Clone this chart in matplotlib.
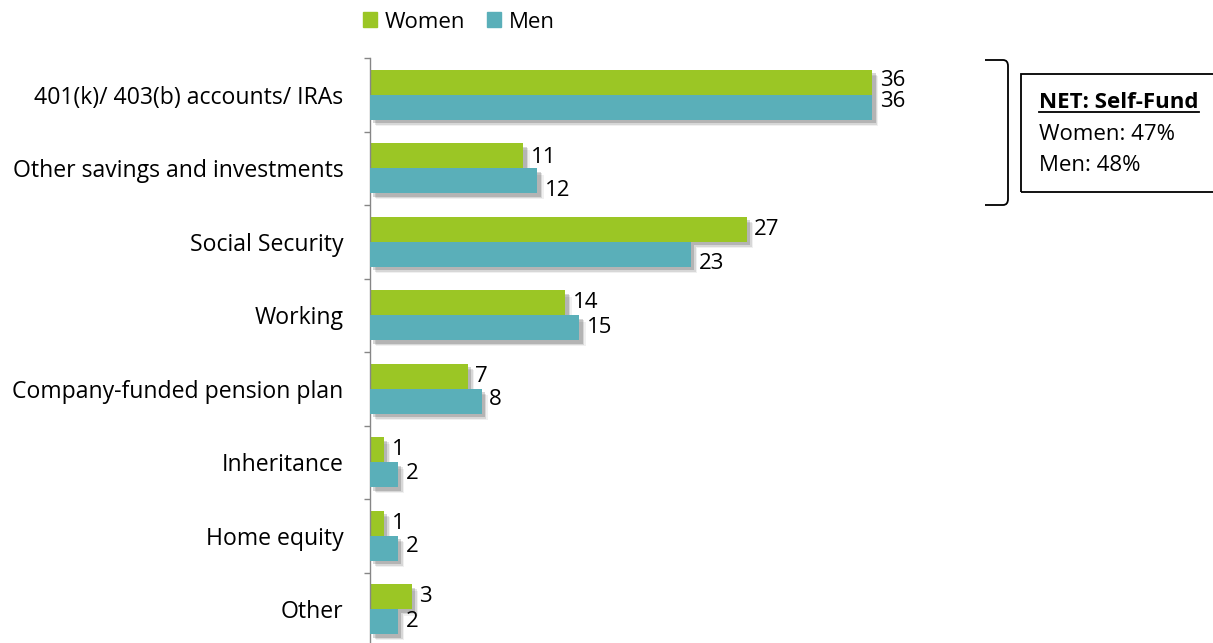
import numpy as np
import matplotlib.pyplot as plt
import matplotlib.patheffects as pe
from matplotlib.patches import Rectangle, PathPatch, Patch
from matplotlib.path import Path

plt.rcParams['font.family'] = ['Open Sans', 'DejaVu Sans']

categories = ['401(k)/ 403(b) accounts/ IRAs', 'Other savings and investments',
              'Social Security', 'Working', 'Company-funded pension plan',
              'Inheritance', 'Home equity', 'Other']
women = [36, 11, 27, 14, 7, 1, 1, 3]
men = [36, 12, 23, 15, 8, 2, 2, 2]
series_names = ['Women', 'Men']
net_title = 'NET: Self-Fund'
net_lines = ['Women: 47%', 'Men: 48%']

c_women = '#9bc625'
c_men = '#5aafb9'
fs = 16

# vertical nudge (points) for value labels, so they clear the shadows
nudge_w = [1, -1.5, 0, 0, 0, 0, 0, 0]
nudge_m = [4, -7, -6.5, 0, 1.5, 1, 1, 0]

W, H = 1213, 643
fig = plt.figure(figsize=(W / 100, H / 100), dpi=100)
# axes placed in pixel terms: zero line at x=370, top at y=58
ax = fig.add_axes([370 / W, (H - 646) / H, 558 / W, 588 / H])

shadow = [pe.SimplePatchShadow(offset=(4.5, -4.5), shadow_rgbFace='#000000', alpha=0.06),
          pe.SimplePatchShadow(offset=(3.5, -3.5), shadow_rgbFace='#000000', alpha=0.10),
          pe.SimplePatchShadow(offset=(2.5, -2.5), shadow_rgbFace='#000000', alpha=0.16),
          pe.Normal()]

y = np.arange(len(categories))
h = 0.34
bw = ax.barh(y - h / 2, women, height=h, color=c_women, path_effects=shadow, zorder=2)
bm = ax.barh(y + h / 2, men, height=h, color=c_men, path_effects=shadow, zorder=3)

for bars, vals, nud in ((bw, women, nudge_w), (bm, men, nudge_m)):
    for b, v, dy in zip(bars, vals, nud):
        ax.annotate(str(v), (v, b.get_y() + b.get_height() / 2), xytext=(5.5, dy),
                    textcoords='offset points', va='center', ha='left', fontsize=fs)

ax.set_xlim(0, 40)
ax.set_ylim(len(categories) - 0.5, -0.5)
ax.set_yticks(y)
ax.set_yticklabels(categories, fontsize=16.6)
ax.set_yticks(np.arange(-0.5, len(categories), 1), minor=True)
ax.tick_params(axis='y', which='major', length=0, pad=19)
ax.tick_params(axis='y', which='minor', length=4, width=1, color='#868686', direction='out')
ax.set_xticks([])
for s in ('top', 'right', 'bottom'):
    ax.spines[s].set_visible(False)
ax.spines['left'].set_color('#868686')
ax.spines['left'].set_linewidth(1)

handles = [Patch(color=c_women), Patch(color=c_men)]
fig.legend(handles, series_names, loc='center', bbox_to_anchor=(459 / W, 1 - 22 / H),
           ncol=2, frameon=False, fontsize=fs, handlelength=0.62, handleheight=0.62,
           handletextpad=0.35, columnspacing=1.0, borderpad=0)

# bracket around the first two categories
def px(x, yy):
    return (x / W, 1 - yy / H)

verts = [px(985, 60), px(1003, 60), px(1008, 60), px(1008, 66),
         px(1008, 199), px(1008, 205), px(1003, 205), px(985, 205)]
codes = [Path.MOVETO, Path.LINETO, Path.CURVE3, Path.CURVE3,
         Path.LINETO, Path.CURVE3, Path.CURVE3, Path.LINETO]
fig.add_artist(PathPatch(Path(verts, codes), fill=False, lw=1.3, edgecolor='black',
                         transform=fig.transFigure))

fig.add_artist(Rectangle(px(1021, 192), 220 / W, 118 / H, fill=False, lw=1.3,
                         edgecolor='black', transform=fig.transFigure))
t = fig.text(1039 / W, 1 - 103 / H, net_title, fontsize=fs, weight='bold', va='center')
for i, line in enumerate(net_lines):
    fig.text(1039 / W, 1 - (135 + 30 * i) / H, line, fontsize=fs, va='center')

fig.canvas.draw()
bb = t.get_window_extent()
fig.add_artist(plt.Line2D([bb.x0 / W, bb.x1 / W], [(bb.y0 + 2) / H] * 2, color='black',
                          lw=1.3, transform=fig.transFigure))

fig.savefig('out.png', dpi=100)
